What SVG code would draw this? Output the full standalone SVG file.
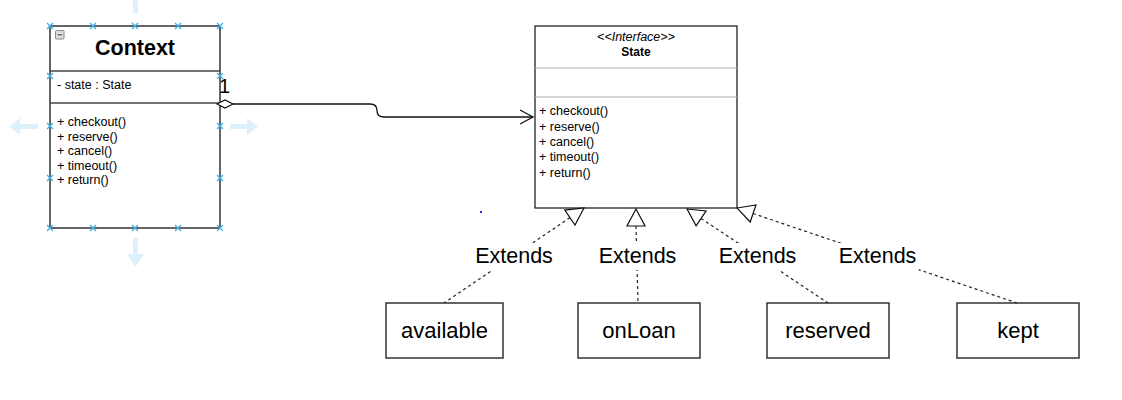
<svg xmlns="http://www.w3.org/2000/svg" width="1122" height="400" viewBox="0 0 1122 400">
<style>
.t{font-family:"Liberation Sans",Arial,sans-serif;fill:#000}
.m{font-size:12.5px}
.box{fill:#fff;stroke:#333;stroke-width:1.5}
.sep{stroke:#444;stroke-width:1.5}
.gsep{stroke:#aaa;stroke-width:1}
.dash{fill:none;stroke:#222;stroke-width:1.2;stroke-dasharray:3,3}
.tri{fill:#fff;stroke:#111;stroke-width:1.2}
.mk{stroke:#3fb0e6;stroke-width:1.3}
.ha{fill:#dcf1fb}
.lbl{font-size:21.5px}
.nt{font-size:22px}
</style>
<defs>
<g id="x"><path class="mk" d="M-3,-3L3,3M-3,3L3,-3"/></g>
</defs>
<rect width="1122" height="400" fill="#fff"/>

<g id="handles">
<rect class="ha" x="133" y="0" width="5" height="13"/>
<path class="ha" d="M9,126.5 L20,118 L20,124 L38,124 L38,129 L20,129 L20,135 Z"/>
<path class="ha" d="M258,126.5 L247,118 L247,124 L230,124 L230,129 L247,129 L247,135 Z"/>
<path class="ha" d="M135.5,267 L127,254 L133,254 L133,238 L138,238 L138,254 L144,254 Z"/>
</g>

<g id="Context">
<rect class="box" x="50" y="26" width="170" height="202"/>
<line class="sep" x1="50" y1="71" x2="220" y2="71"/>
<line class="sep" x1="50" y1="103" x2="220" y2="103"/>
<rect x="55.5" y="30.5" width="8.5" height="8.5" rx="1" fill="#ddd" stroke="#888" stroke-width="1"/>
<line x1="57.5" y1="34.75" x2="62" y2="34.75" stroke="#555" stroke-width="1.2"/>
<text class="t" x="135" y="55" font-size="21.5" font-weight="bold" text-anchor="middle">Context</text>
<text class="t m" x="57" y="89">- state : State</text>
<text class="t m" x="57" y="126">+ checkout()</text>
<text class="t m" x="57" y="140.5">+ reserve()</text>
<text class="t m" x="57" y="155">+ cancel()</text>
<text class="t m" x="57" y="169.5">+ timeout()</text>
<text class="t m" x="57" y="184">+ return()</text>
<use href="#x" x="50" y="26"/><use href="#x" x="93" y="26"/><use href="#x" x="135" y="26"/><use href="#x" x="178" y="26"/><use href="#x" x="220" y="26"/>
<use href="#x" x="50" y="228"/><use href="#x" x="93" y="228"/><use href="#x" x="135" y="228"/><use href="#x" x="178" y="228"/><use href="#x" x="220" y="228"/>
<use href="#x" x="50" y="76"/><use href="#x" x="50" y="126"/><use href="#x" x="50" y="178"/>
<use href="#x" x="220" y="76"/><use href="#x" x="220" y="126"/><use href="#x" x="220" y="178"/>
</g>

<g id="State">
<rect x="535" y="26" width="202" height="182" fill="#fff" stroke="#111" stroke-width="1.2"/>
<line class="gsep" x1="535" y1="68" x2="737" y2="68"/>
<line class="gsep" x1="535" y1="97" x2="737" y2="97"/>
<text class="t" x="636" y="41" font-size="12.5" font-style="italic" text-anchor="middle">&lt;&lt;Interface&gt;&gt;</text>
<text class="t" x="636" y="56" font-size="12" font-weight="bold" text-anchor="middle">State</text>
<text class="t m" x="539" y="115">+ checkout()</text>
<text class="t m" x="539" y="130.5">+ reserve()</text>
<text class="t m" x="539" y="146">+ cancel()</text>
<text class="t m" x="539" y="161">+ timeout()</text>
<text class="t m" x="539" y="176.5">+ return()</text>
</g>

<g id="available">
<rect class="box" x="386" y="303" width="117" height="55"/>
<text class="t nt" x="444.5" y="338" text-anchor="middle">available</text>
</g>
<g id="onLoan">
<rect class="box" x="578" y="303" width="122" height="55"/>
<text class="t nt" x="639" y="338" text-anchor="middle">onLoan</text>
</g>
<g id="reserved">
<rect class="box" x="767" y="303" width="122" height="55"/>
<text class="t nt" x="828" y="338" text-anchor="middle">reserved</text>
</g>
<g id="kept">
<rect class="box" x="957" y="303" width="122" height="55"/>
<text class="t nt" x="1018" y="338" text-anchor="middle">kept</text>
</g>

<g id="connectors">
<path d="M233,104 L370,104 Q377,104 377,110.5 Q377,117 384,117 L533,117" fill="none" stroke="#111" stroke-width="1.3"/>
<path d="M520,110 L533,117 L520,124" fill="none" stroke="#111" stroke-width="1.3"/>
<polygon points="217,104 225,100 233,104 225,108" fill="#fff" stroke="#111" stroke-width="1.2"/>
<text class="t" x="219" y="93" font-size="20">1</text>

<line class="dash" x1="570" y1="217.6" x2="444" y2="303"/>
<line class="dash" x1="636" y1="226" x2="638" y2="303"/>
<line class="dash" x1="701" y1="218.4" x2="828" y2="303"/>
<line class="dash" x1="753" y1="213.5" x2="1017" y2="303"/>
<polygon class="tri" points="584,208 575,225 564.8,210.1"/>
<polygon class="tri" points="636,209 645,226 627,226"/>
<polygon class="tri" points="687,209 706.1,210.9 696.1,225.9"/>
<polygon class="tri" points="737,208 756,205 750.2,222"/>

<rect x="472" y="243" width="84" height="27" fill="#fff"/>
<rect x="595" y="243" width="84" height="27" fill="#fff"/>
<rect x="715" y="243" width="84" height="27" fill="#fff"/>
<rect x="835" y="243" width="84" height="27" fill="#fff"/>
<text class="t lbl" x="514" y="263" text-anchor="middle">Extends</text>
<text class="t lbl" x="637.5" y="263" text-anchor="middle">Extends</text>
<text class="t lbl" x="757.5" y="263" text-anchor="middle">Extends</text>
<text class="t lbl" x="877.5" y="263" text-anchor="middle">Extends</text>
</g>
<rect x="480" y="211" width="2" height="2" fill="#2233dd"/>
</svg>
